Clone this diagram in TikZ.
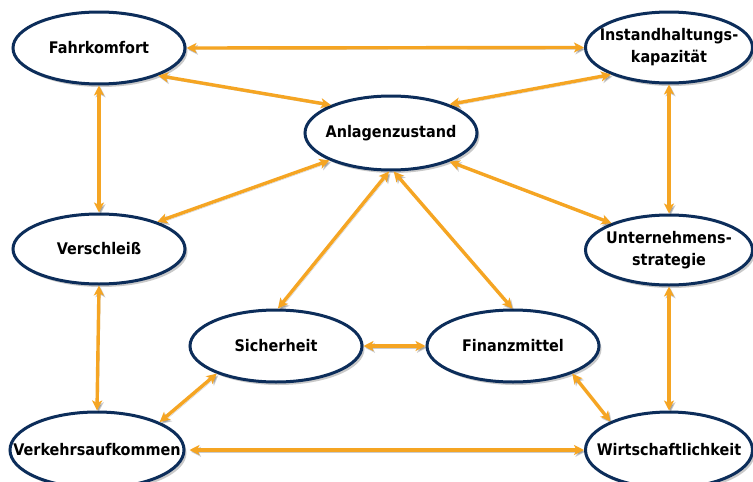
\documentclass[tikz,border=0pt]{standalone}
\usepackage{fontspec}
\setmainfont{DejaVu Sans Condensed}
\usetikzlibrary{shapes.geometric,shadows,arrows.meta}
\definecolor{rim}{RGB}{12,45,90}
\definecolor{linkorange}{RGB}{245,165,35}
\begin{document}
\begin{tikzpicture}[x=1pt,y=-1pt,
  topic/.style={ellipse, draw=rim, line width=3pt, fill=white,
    inner sep=0pt, minimum width=#1,
    drop shadow={shadow xshift=2.5pt, shadow yshift=-3pt, opacity=0.35, fill=black!60}},
  topic/.default=172pt,
  caption/.style={font=\bfseries\fontsize{16}{22}\selectfont, align=center, inner sep=0pt},
  conn/.style={draw=linkorange, line width=3.4pt,
    {Stealth[length=10pt,width=10pt,inset=2.5pt]}-{Stealth[length=10pt,width=10pt,inset=2.5pt]},
    preaction={draw=black, opacity=0.2, transform canvas={shift={(1.5pt,-1.8pt)}}}}]
\useasboundingbox[fill=white] (0,0) rectangle (753,482);

% topic ellipses, captions set as centred labels
\node[topic, minimum height=72pt, label={[caption]center:Fahrkomfort}] (fahr) at (99,48) {};
\node[topic=167pt, minimum height=71pt, label={[caption]center:Instandhaltungs-\\kapazität}] (inst) at (669,47.5) {};
\node[topic, minimum height=74pt, label={[caption]center:Anlagenzustand}] (anl) at (391,133) {};
\node[topic, minimum height=70pt, label={[caption]center:Verschleiß}] (vers) at (99,249) {};
\node[topic=167pt, minimum height=70pt, label={[caption]center:Unternehmens-\\strategie}] (unt) at (669,250) {};
\node[topic, minimum height=72pt, label={[caption]center:Sicherheit}] (sich) at (276,346) {};
\node[topic, minimum height=72pt, label={[caption]center:Finanzmittel}] (fin) at (513,346) {};
\node[topic=174pt, minimum height=76pt, label={[caption]center:Verkehrsaufkommen}] (verk) at (97,450) {};
\node[topic=167pt, minimum height=76pt, label={[caption]center:Wirtschaftlichkeit}] (wirt) at (669,450) {};

% two-way relations
\path[conn] (fahr.east) -- (inst.west);
\path[conn] (fahr.-25) -- (anl.155);
\path[conn] (inst.205) -- (anl.26);
\path[conn] (fahr.south) -- (vers.north);
\path[conn] (inst.south) -- (unt.north);
\path[conn] (anl.204) -- (vers.25);
\path[conn] (anl.-26) -- (unt.155);
\path[conn] (anl.-93) -- (sich.87);
\path[conn] (anl.-86) -- (fin.91);
\path[conn] (vers.south) -- (verk.north);
\path[conn] (unt.south) -- (wirt.north);
\path[conn] (sich.east) -- (fin.west);
\path[conn] (sich.205) -- (verk.24);
\path[conn] (fin.-25) -- (wirt.154);
\path[conn] ([xshift=4pt]verk.east) -- (wirt.west);
\end{tikzpicture}
\end{document}
